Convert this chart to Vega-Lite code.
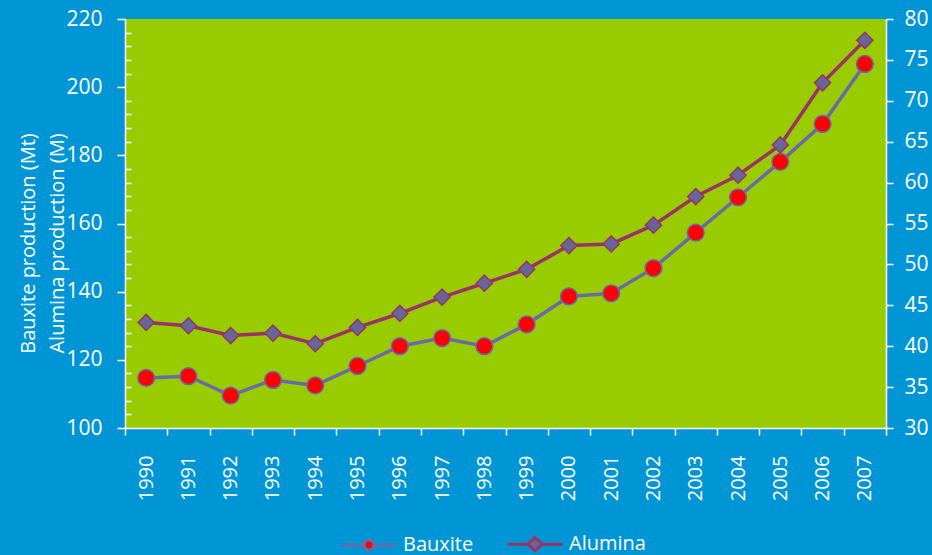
{
  "$schema": "https://vega.github.io/schema/vega-lite/v6.json",
  "width": 761,
  "height": 409,
  "autosize": {"type": "none"},
  "padding": {"left": 125, "top": 19, "right": 46, "bottom": 127},
  "background": "#0096d6",
  "config": {
    "view": {"fill": "#99cc00", "stroke": null},
    "font": "Open Sans",
    "axis": {
      "domainColor": "#ffffff",
      "domainWidth": 1.5,
      "tickColor": "#ffffff",
      "tickWidth": 1.5,
      "labelColor": "#ffffff",
      "titleColor": "#ffffff",
      "grid": false,
      "labelFont": "Open Sans",
      "titleFont": "Open Sans",
      "titleFontWeight": "normal"
    }
  },
  "data": {
    "values": [
      {"year": "1990", "series": "Bauxite", "value": 114.7},
      {"year": "1991", "series": "Bauxite", "value": 115.2},
      {"year": "1992", "series": "Bauxite", "value": 109.5},
      {"year": "1993", "series": "Bauxite", "value": 114.1},
      {"year": "1994", "series": "Bauxite", "value": 112.5},
      {"year": "1995", "series": "Bauxite", "value": 118.2},
      {"year": "1996", "series": "Bauxite", "value": 124.0},
      {"year": "1997", "series": "Bauxite", "value": 126.4},
      {"year": "1998", "series": "Bauxite", "value": 124.0},
      {"year": "1999", "series": "Bauxite", "value": 130.4},
      {"year": "2000", "series": "Bauxite", "value": 138.6},
      {"year": "2001", "series": "Bauxite", "value": 139.5},
      {"year": "2002", "series": "Bauxite", "value": 146.9},
      {"year": "2003", "series": "Bauxite", "value": 157.3},
      {"year": "2004", "series": "Bauxite", "value": 167.7},
      {"year": "2005", "series": "Bauxite", "value": 178.1},
      {"year": "2006", "series": "Bauxite", "value": 189.2},
      {"year": "2007", "series": "Bauxite", "value": 206.8},
      {"year": "1990", "series": "Alumina", "value": 42.9},
      {"year": "1991", "series": "Alumina", "value": 42.5},
      {"year": "1992", "series": "Alumina", "value": 41.3},
      {"year": "1993", "series": "Alumina", "value": 41.6},
      {"year": "1994", "series": "Alumina", "value": 40.3},
      {"year": "1995", "series": "Alumina", "value": 42.3},
      {"year": "1996", "series": "Alumina", "value": 44.0},
      {"year": "1997", "series": "Alumina", "value": 46.0},
      {"year": "1998", "series": "Alumina", "value": 47.7},
      {"year": "1999", "series": "Alumina", "value": 49.4},
      {"year": "2000", "series": "Alumina", "value": 52.3},
      {"year": "2001", "series": "Alumina", "value": 52.5},
      {"year": "2002", "series": "Alumina", "value": 54.8},
      {"year": "2003", "series": "Alumina", "value": 58.3},
      {"year": "2004", "series": "Alumina", "value": 60.9},
      {"year": "2005", "series": "Alumina", "value": 64.6},
      {"year": "2006", "series": "Alumina", "value": 72.2},
      {"year": "2007", "series": "Alumina", "value": 77.4}
    ]
  },
  "encoding": {
    "x": {
      "field": "year",
      "type": "ordinal",
      "bandPosition": 0.5,
      "scale": {"type": "band", "paddingInner": 0, "paddingOuter": 0},
      "axis": {
        "title": null,
        "tickBand": "extent",
        "labelAngle": 270,
        "labelAlign": "right",
        "labelBaseline": "middle",
        "labelFontSize": 20,
        "tickSize": 7,
        "labelPadding": 20
      }
    }
  },
  "layer": [
    {
      "transform": [{"filter": "datum.series === 'Bauxite'"}],
      "encoding": {
        "y": {
          "field": "value",
          "type": "quantitative",
          "scale": {"domain": [100, 220], "nice": false, "zero": false},
          "axis": {
            "orient": "left",
            "values": [100, 104, 108, 112, 116, 120, 124, 128, 132, 136, 140, 144, 148, 152, 156, 160, 164, 168, 172, 176, 180, 184, 188, 192, 196, 200, 204, 208, 212, 216, 220],
            "labelExpr": "datum.value % 20 === 0 ? datum.label : ''",
            "tickSize": {"condition": {"test": "datum.value % 20 === 0", "value": 8}, "value": -6},
            "labelPadding": 15,
            "labelFontSize": 21,
            "title": ["Bauxite production (Mt)", "Alumina production (M)"],
            "titleFontSize": 20,
            "titleLineHeight": 29,
            "titleAngle": 270,
            "titleAlign": "center",
            "titleBaseline": "middle",
            "titleX": -97,
            "titleY": 224
          }
        }
      },
      "layer": [
        {
          "mark": {"type": "line", "strokeWidth": 3.5},
          "encoding": {
            "color": {
              "field": "series",
              "type": "nominal",
              "scale": {"domain": ["Bauxite", "Alumina"], "range": ["#6a6aa8", "#993366"]},
              "legend": {
                "orient": "none",
                "legendX": 215,
                "legendY": 496,
                "direction": "horizontal",
                "title": null,
                "padding": 0,
                "symbolSize": 3025,
                "symbolStrokeWidth": 3,
                "labelColor": "#ffffff",
                "labelFontSize": 20,
                "labelFont": "Open Sans",
                "labelOffset": 5,
                "columnPadding": 27,
                "encode": {
                  "symbols": {
                    "update": {
                      "shape": {"signal": "datum.value === 'Bauxite' ? 'M-1,0H-0.18M0.18,0H1M0.18,0A0.18,0.18,0,1,1,-0.18,0A0.18,0.18,0,1,1,0.18,0Z' : 'M-1,0H-0.27M0.27,0H1M-0.27,0L0,-0.24L0.27,0L0,0.24Z'"},
                      "fill": {"signal": "datum.value === 'Bauxite' ? '#ff0000' : '#666699'"},
                      "fillOpacity": {"value": 1},
                      "opacity": {"value": 1}
                    }
                  }
                }
              }
            }
          }
        },
        {
          "mark": {"type": "point", "filled": true, "shape": "circle", "size": 280, "fill": "#ff0000", "stroke": "#6a6aa8", "strokeWidth": 1.5, "opacity": 1, "fillOpacity": 1, "strokeOpacity": 1}
        }
      ]
    },
    {
      "transform": [{"filter": "datum.series === 'Alumina'"}],
      "encoding": {
        "y": {
          "field": "value",
          "type": "quantitative",
          "scale": {"domain": [30, 80], "nice": false, "zero": false},
          "axis": {
            "orient": "right",
            "values": [30, 35, 40, 45, 50, 55, 60, 65, 70, 75, 80],
            "tickSize": 7,
            "labelPadding": 11,
            "labelFontSize": 21,
            "title": null
          }
        }
      },
      "layer": [
        {
          "mark": {"type": "line", "strokeWidth": 3.5},
          "encoding": {
            "color": {
              "field": "series",
              "type": "nominal",
              "scale": {"domain": ["Bauxite", "Alumina"], "range": ["#6a6aa8", "#993366"]},
              "legend": {
                "orient": "none",
                "legendX": 215,
                "legendY": 496,
                "direction": "horizontal",
                "title": null,
                "padding": 0,
                "symbolSize": 3025,
                "symbolStrokeWidth": 3,
                "labelColor": "#ffffff",
                "labelFontSize": 20,
                "labelFont": "Open Sans",
                "labelOffset": 5,
                "columnPadding": 27,
                "encode": {
                  "symbols": {
                    "update": {
                      "shape": {"signal": "datum.value === 'Bauxite' ? 'M-1,0H-0.18M0.18,0H1M0.18,0A0.18,0.18,0,1,1,-0.18,0A0.18,0.18,0,1,1,0.18,0Z' : 'M-1,0H-0.27M0.27,0H1M-0.27,0L0,-0.24L0.27,0L0,0.24Z'"},
                      "fill": {"signal": "datum.value === 'Bauxite' ? '#ff0000' : '#666699'"},
                      "fillOpacity": {"value": 1},
                      "opacity": {"value": 1}
                    }
                  }
                }
              }
            }
          }
        },
        {
          "mark": {"type": "point", "filled": true, "shape": "diamond", "size": 260, "fill": "#666699", "stroke": "#993366", "strokeWidth": 1.5, "opacity": 1, "fillOpacity": 1, "strokeOpacity": 1}
        }
      ]
    }
  ],
  "resolve": {"scale": {"y": "independent"}}
}
